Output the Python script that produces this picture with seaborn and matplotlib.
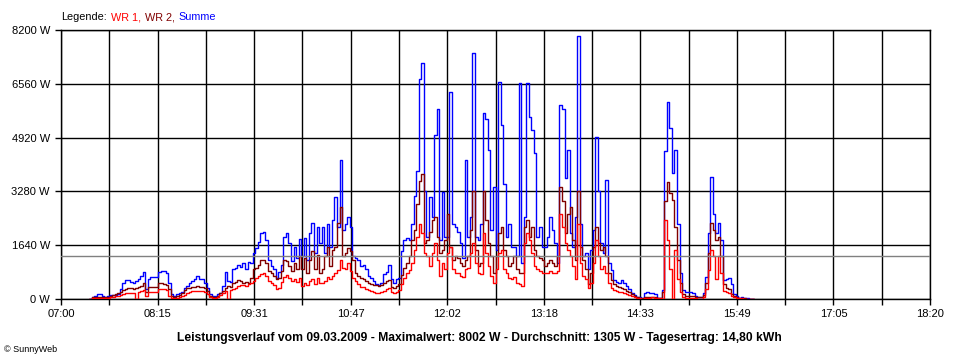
import matplotlib
matplotlib.use("Agg")
import matplotlib.pyplot as plt
import pandas as pd
import seaborn as sns

# 2-minute readings from 07:22 on (Watt)
start = "2009-03-09 07:22"
step = "2min"

summe = [
    0, 70, 90, 150, 150, 90, 70, 80, 120, 120,
    130, 150, 300, 480, 580, 580, 520, 490, 560, 620,
    700, 820, 300, 620, 670, 680, 680, 820, 840, 850,
    780, 500, 150, 90, 150, 180, 200, 330, 400, 500,
    560, 620, 700, 600, 620, 500, 350, 150, 80, 100,
    150, 180, 400, 820, 550, 520, 900, 950, 1040, 980,
    1100, 900, 1130, 1100, 1400, 1550, 1750, 2010, 2040, 1800,
    1200, 1000, 900, 650, 820, 1050, 1890, 2010, 1700, 1150,
    1600, 1250, 1830, 1300, 1860, 1200, 2000, 2320, 1400, 2200,
    1700, 2200, 1400, 2300, 1600, 2400, 3100, 2200, 4240, 2100,
    2300, 2500, 2200, 1300, 1250, 1200, 1000, 1050, 900, 700,
    650, 560, 460, 430, 500, 750, 820, 1050, 600, 500,
    620, 650, 1450, 1800, 1850, 1800, 2300, 3150, 3900, 6700,
    7200, 3300, 1900, 3100, 2500, 5000, 5800, 1800, 3250, 1900,
    1900, 6300, 2300, 2200, 2040, 1700, 1250, 4250, 1900, 2500,
    7500, 1900, 1800, 2300, 5670, 5500, 4540, 2100, 3400, 1500,
    6600, 5300, 3500, 1890, 2300, 1600, 1600, 1300, 6580, 1100,
    2500, 6580, 5550, 5150, 4450, 1900, 2200, 1600, 1590, 1900,
    2500, 2100, 1700, 1100, 5900, 5800, 3700, 4540, 2000, 1600,
    2500, 8002, 2300, 1300, 1400, 900, 1500, 2100, 4940, 3300,
    1700, 1400, 3630, 1100, 880, 580, 520, 490, 570, 480,
    400, 300, 180, 130, 70, 50, 30, 180, 200, 180,
    180, 150, 40, 30, 270, 4500, 6000, 5200, 3840, 4540,
    2300, 800, 270, 210, 210, 200, 180, 100, 60, 60,
    180, 670, 2000, 3720, 2600, 2000, 2320, 1800, 580, 620,
    640, 450, 150, 80, 40, 60, 30, 40, 0, 0,
    0,
]

wr2 = [
    0, 60, 60, 60, 60, 60, 60, 60, 100, 120,
    150, 180, 200, 270, 300, 340, 340, 320, 330, 370,
    400, 490, 200, 370, 370, 380, 380, 480, 490, 470,
    430, 300, 100, 60, 80, 120, 180, 270, 330, 340,
    370, 380, 400, 370, 380, 340, 250, 100, 60, 60,
    100, 180, 250, 330, 400, 380, 490, 520, 580, 550,
    500, 520, 500, 640, 900, 950, 1050, 1190, 1200, 1100,
    850, 790, 700, 620, 650, 850, 1190, 1150, 1000, 850,
    1100, 900, 1300, 900, 1250, 800, 1200, 1450, 900, 1350,
    800, 900, 1300, 1590, 1000, 1500, 1600, 2320, 2800, 1300,
    1400, 1550, 1450, 1200, 800, 700, 640, 620, 550, 490,
    470, 430, 430, 400, 420, 490, 560, 580, 380, 340,
    400, 450, 730, 950, 1100, 1300, 1800, 2100, 2900, 3600,
    3800, 1700, 1800, 2050, 2400, 2500, 1900, 1400, 1500, 1800,
    2600, 1600, 1190, 1300, 1250, 1100, 1000, 1200, 1300, 2100,
    3300, 1500, 1000, 1100, 3300, 2400, 1700, 1300, 800, 1300,
    2000, 2200, 1500, 1300, 1000, 1100, 1300, 900, 800, 800,
    2200, 2400, 1900, 2200, 1500, 1300, 1250, 1200, 1000, 1100,
    1200, 1100, 1000, 1300, 3400, 3000, 2000, 2600, 2800, 1800,
    1200, 3300, 1600, 1200, 900, 450, 800, 1600, 2200, 1700,
    1500, 1600, 1300, 800, 580, 450, 400, 380, 350, 290,
    240, 200, 160, 100, 50, 30, 30, 60, 70, 60,
    70, 60, 40, 30, 200, 3000, 3570, 3230, 3020, 2200,
    1200, 500, 150, 100, 100, 90, 80, 60, 50, 50,
    120, 500, 1400, 2320, 2100, 1800, 1900, 1300, 450, 350,
    300, 150, 80, 50, 30, 30, 20, 10, 0, 0,
    0,
]

wr1 = [
    0, 30, 40, 40, 40, 30, 30, 30, 60, 60,
    80, 100, 120, 150, 180, 180, 180, 190, 0, 210,
    240, 280, 100, 210, 210, 210, 220, 300, 300, 300,
    270, 100, 30, 30, 40, 60, 100, 130, 180, 210,
    230, 240, 250, 240, 230, 200, 150, 60, 30, 30,
    60, 120, 180, 240, 0, 270, 320, 350, 400, 430,
    430, 400, 460, 490, 560, 640, 700, 760, 790, 700,
    560, 490, 420, 300, 350, 520, 670, 730, 650, 560,
    620, 520, 650, 400, 500, 440, 550, 600, 450, 650,
    500, 490, 560, 670, 600, 700, 800, 880, 1190, 950,
    900, 1100, 850, 650, 550, 450, 380, 370, 300, 270,
    240, 200, 180, 180, 200, 250, 290, 330, 200, 190,
    220, 280, 450, 650, 780, 880, 1100, 1500, 1900, 2300,
    2000, 1400, 1300, 1000, 1400, 1700, 1200, 700, 1100, 900,
    1400, 1600, 900, 800, 780, 700, 680, 900, 950, 1400,
    1700, 1100, 800, 750, 2000, 1400, 1000, 700, 500, 900,
    1400, 1500, 900, 800, 650, 600, 680, 500, 450, 400,
    1700, 2000, 1800, 1400, 1000, 900, 850, 800, 780, 800,
    850, 800, 780, 850, 2600, 2200, 1700, 1500, 1300, 1000,
    600, 2300, 1100, 700, 600, 350, 500, 1100, 1800, 1300,
    900, 1000, 800, 500, 350, 280, 230, 210, 200, 180,
    150, 120, 100, 60, 30, 20, 0, 30, 40, 40,
    50, 40, 30, 20, 0, 2400, 1800, 900, 0, 1500,
    600, 200, 60, 40, 40, 30, 30, 20, 0, 0,
    60, 300, 880, 1490, 1300, 600, 1300, 800, 250, 200,
    180, 100, 60, 30, 20, 20, 10, 0, 0, 0,
    0,
]

tick_labels = ["07:00", "08:15", "09:31", "10:47", "12:02",
               "13:18", "14:33", "15:49", "17:05", "18:20"]
y_ticks = [0, 1640, 3280, 4920, 6560, 8200]
average = 1305
title = ("Leistungsverlauf vom 09.03.2009 - Maximalwert: 8002 W - "
         "Durchschnitt: 1305 W - Tagesertrag: 14,80 kWh")
legend_parts = [("Legende:", "black"), ("WR 1,", "#ff0000"),
                ("WR 2,", "#800000"), ("Summe", "#0000ff")]

times = pd.date_range(start, periods=len(summe), freq=step)
df = pd.DataFrame({"Zeit": times, "Summe": summe, "WR 2": wr2, "WR 1": wr1})
long = df.melt(id_vars="Zeit", var_name="Serie", value_name="Leistung")

sns.set_theme(style="white")
plt.rcParams["font.family"] = ["Liberation Sans", "DejaVu Sans"]

fig = plt.figure(figsize=(9.6, 3.6), dpi=100, facecolor="white")
ax = fig.add_axes([61 / 960, 61 / 360, 869 / 960, 269 / 360])

palette = {"Summe": "#0000ff", "WR 2": "#800000", "WR 1": "#ff0000"}
sns.lineplot(data=long, x="Zeit", y="Leistung", hue="Serie",
             hue_order=["Summe", "WR 2", "WR 1"], palette=palette,
             estimator=None, drawstyle="steps-post", linewidth=1,
             legend=False, ax=ax, zorder=3)
ax.axhline(average, color="#808080", linewidth=1, zorder=4)

# axis: 07:00 - 18:20, 18 grid columns
t0 = pd.Timestamp("2009-03-09 07:00")
t1 = pd.Timestamp("2009-03-09 18:20")
grid_times = list(pd.date_range(t0, t1, periods=19).to_pydatetime())
ax.set_xlim(t0, t1)
ax.set_ylim(0, 8200)
ax.set_xticks(grid_times[::2], tick_labels)
ax.set_xticks(grid_times[1::2], minor=True)
ax.set_yticks(y_ticks, [f"{v} W" for v in y_ticks])
ax.grid(True, which="both", color="black", linewidth=1)
ax.set_axisbelow(True)
ax.tick_params(axis="x", which="both", direction="out", length=4, width=1,
               color="black", bottom=True, pad=3, labelsize=8, labelcolor="black")
ax.tick_params(axis="y", direction="out", length=4.5, width=1, color="black",
               left=True, pad=3.5, labelsize=8, labelcolor="black")
for sp in ax.spines.values():
    sp.set_color("black")
    sp.set_linewidth(1)
ax.set_xlabel("")
ax.set_ylabel("")

fig.text(0.4995, 1 - 338 / 360, title, ha="center", va="center",
         fontsize=8.7, fontweight="bold", color="black")
fig.text(4 / 960, 1 - 349 / 360, "© SunnyWeb", ha="left", va="center",
         fontsize=6.5, color="black")

# coloured legend line at the top
fig.canvas.draw()
renderer = fig.canvas.get_renderer()
x = 61 / 960
for word, color in legend_parts:
    t = fig.text(x, 1 - 17 / 360, word, color=color, fontsize=7.8,
                 ha="left", va="center")
    bb = t.get_window_extent(renderer)
    x = (bb.x1 + 4) / 960

fig.savefig("out.png", dpi=100, facecolor="white")
